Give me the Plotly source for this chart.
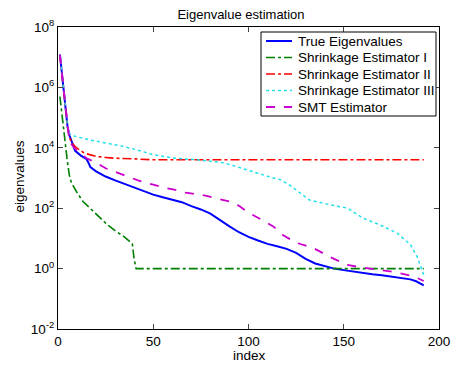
import plotly.graph_objects as go

# ---- data ----
true_x = [1, 2, 3, 4, 5, 6, 7, 9, 12, 15, 16, 17, 20, 25, 30, 35, 40, 45, 50, 55, 60, 65, 70, 75,
          80, 85, 90, 95, 100, 105, 110, 115, 120, 125, 130, 135, 140, 145, 150, 155, 160, 165,
          170, 175, 180, 185, 188, 190, 192]
true_y = [1.23e7, 2.8e6, 6.3e5, 1.4e5, 5.0e4, 2.6e4, 1.66e4, 7.9e3, 5.5e3, 4.2e3, 3.2e3, 2.3e3,
          1.66e3, 1.12e3, 830, 630, 480, 355, 282, 229, 191, 158, 117, 91,
          66, 40, 25, 16, 11.2, 8.5, 6.6, 5.5, 4.5, 3.3, 2.1, 1.48, 1.2, 1.0, 0.89, 0.79, 0.71, 0.65,
          0.6, 0.55, 0.5, 0.44, 0.38, 0.33, 0.28]

shr1_x = [1, 2, 3, 4, 5, 6, 7, 10, 13, 18, 22, 26, 30, 35, 39, 40, 41, 192]
shr1_y = [5e5, 1.3e5, 3.2e4, 1.0e4, 3.2e3, 1.2e3, 700, 330, 170, 85, 50, 28, 18, 11, 6.6, 2.0, 1.0, 1.0]

shr2_x = [1, 2, 3, 4, 5, 6, 7, 9, 11, 14, 17, 20, 25, 30, 40, 50, 192]
shr2_y = [1.2e7, 2.8e6, 6.3e5, 1.4e5, 5e4, 2.2e4, 1.6e4, 1.1e4, 8.7e3, 6.6e3, 5.8e3, 5.2e3,
          4.8e3, 4.5e3, 4.3e3, 4.0e3, 4.0e3]

shr3_x = [1, 2, 3, 4, 5, 6, 9, 16, 25, 34, 41, 50, 60, 73, 87, 96, 104, 113, 117, 122, 126, 132,
          143, 152, 160, 169, 178, 185, 188.5, 191, 192]
shr3_y = [1.2e7, 2.8e6, 6.3e5, 1.4e5, 5e4, 3e4, 2.4e4, 1.86e4, 1.45e4, 1.12e4, 8.7e3, 5.9e3,
          4.6e3, 4.0e3, 3.2e3, 2.2e3, 1.5e3, 1.0e3, 870, 560, 355, 186, 129, 100, 47, 28, 15,
          6.2, 2.5, 1.02, 0.63]

smt_x = [1, 2, 3, 4, 5, 6, 8, 10, 15, 20, 25, 30, 35, 42, 50, 56, 61, 67, 78, 90, 95, 99, 104,
         113, 118, 125, 134, 143, 152, 160, 169, 178, 187, 192]
smt_y = [1.2e7, 3e6, 7e5, 1.8e5, 5.5e4, 1.6e4, 1.1e4, 8e3, 4.5e3, 3.2e3, 2.1e3, 1.6e3, 1.25e3,
         830, 600, 470, 410, 330, 257, 166, 120, 78, 52, 25, 13, 7.2, 4.8, 2.4, 1.32, 1.07, 0.91,
         0.74, 0.54, 0.39]

names = ["True Eigenvalues", "Shrinkage Estimator I", "Shrinkage Estimator II",
         "Shrinkage Estimator III", "SMT Estimator"]
x_ticks = [0, 50, 100, 150, 200]
y_ticks = [1e-2, 1e0, 1e2, 1e4, 1e6, 1e8]
y_tick_text = ["10<sup>-2</sup>", "10<sup>0</sup>", "10<sup>2</sup>", "10<sup>4</sup>",
               "10<sup>6</sup>", "10<sup>8</sup>"]

FONT = "Liberation Sans, Arial, Helvetica, sans-serif"
W, H = 454, 367
L, R, T, B = 58, 15, 27, 38
PW, PH = W - L - R, H - T - B


def px_x(p):
    return (p - L) / PW


def px_y(p):
    return (H - B - p) / PH


fig = go.Figure()
styles = [
    ("#0000FF", "solid", 2.0),
    ("#008000", "dashdot", 1.6),
    ("#FF0000", "dashdot", 1.6),
    ("#20E0E8", "dot", 1.5),
    ("#CC00CC", "dash", 1.8),
]
data = [(true_x, true_y), (shr1_x, shr1_y), (shr2_x, shr2_y), (shr3_x, shr3_y), (smt_x, smt_y)]
for (xs, ys), (c, d, w), n in zip(data, styles, names):
    fig.add_trace(go.Scatter(x=xs, y=ys, mode="lines", name=n,
                             line=dict(color=c, dash=d, width=w)))

# legend drawn as box + samples + text
shapes = [dict(type="rect", xref="paper", yref="paper",
               x0=px_x(261), x1=px_x(436), y0=px_y(116), y1=px_y(32),
               line=dict(color="black", width=1), fillcolor="white", layer="above")]
annotations = []
row_y = [41, 57.5, 74, 90.5, 107]
for (c, d, w), n, ry in zip(styles, names, row_y):
    shapes.append(dict(type="line", xref="paper", yref="paper",
                       x0=px_x(266), x1=px_x(292), y0=px_y(ry), y1=px_y(ry),
                       line=dict(color=c, dash=d, width=w), layer="above"))
    annotations.append(dict(text=n, xref="paper", yref="paper", x=px_x(296), y=px_y(ry),
                            xanchor="left", yanchor="middle", showarrow=False,
                            font=dict(size=13.5)))

annotations.append(dict(text="index", xref="paper", yref="paper", x=px_x(249), y=px_y(356),
                        xanchor="center", yanchor="middle", showarrow=False,
                        font=dict(size=13.5)))
annotations.append(dict(text="eigenvalues", xref="paper", yref="paper", x=px_x(18.5),
                        y=px_y(177), xanchor="center", yanchor="middle", showarrow=False,
                        textangle=-90, font=dict(size=13.5)))

fig.update_layout(
    width=W, height=H,
    margin=dict(l=L, r=R, t=T, b=B),
    paper_bgcolor="white", plot_bgcolor="white",
    font=dict(family=FONT, size=13.5, color="black"),
    title=dict(text="Eigenvalue estimation", x=241 / W, xanchor="center",
               y=1 - 14 / H, yanchor="middle", font=dict(size=13)),
    showlegend=False,
    shapes=shapes,
    annotations=annotations,
)
fig.update_xaxes(range=[0, 200], tickvals=x_ticks, ticks="inside", ticklen=5,
                 showline=True, linecolor="black", linewidth=1, mirror="ticks",
                 showgrid=False, zeroline=False, automargin=False,
                 tickfont=dict(size=13.5))
fig.update_yaxes(type="log", range=[-2, 8], tickvals=y_ticks, ticktext=y_tick_text,
                 ticks="inside", ticklen=5, showline=True, linecolor="black", linewidth=1,
                 mirror="ticks", showgrid=False, zeroline=False, automargin=False,
                 tickfont=dict(size=13.5))

fig.write_html("out.html")
